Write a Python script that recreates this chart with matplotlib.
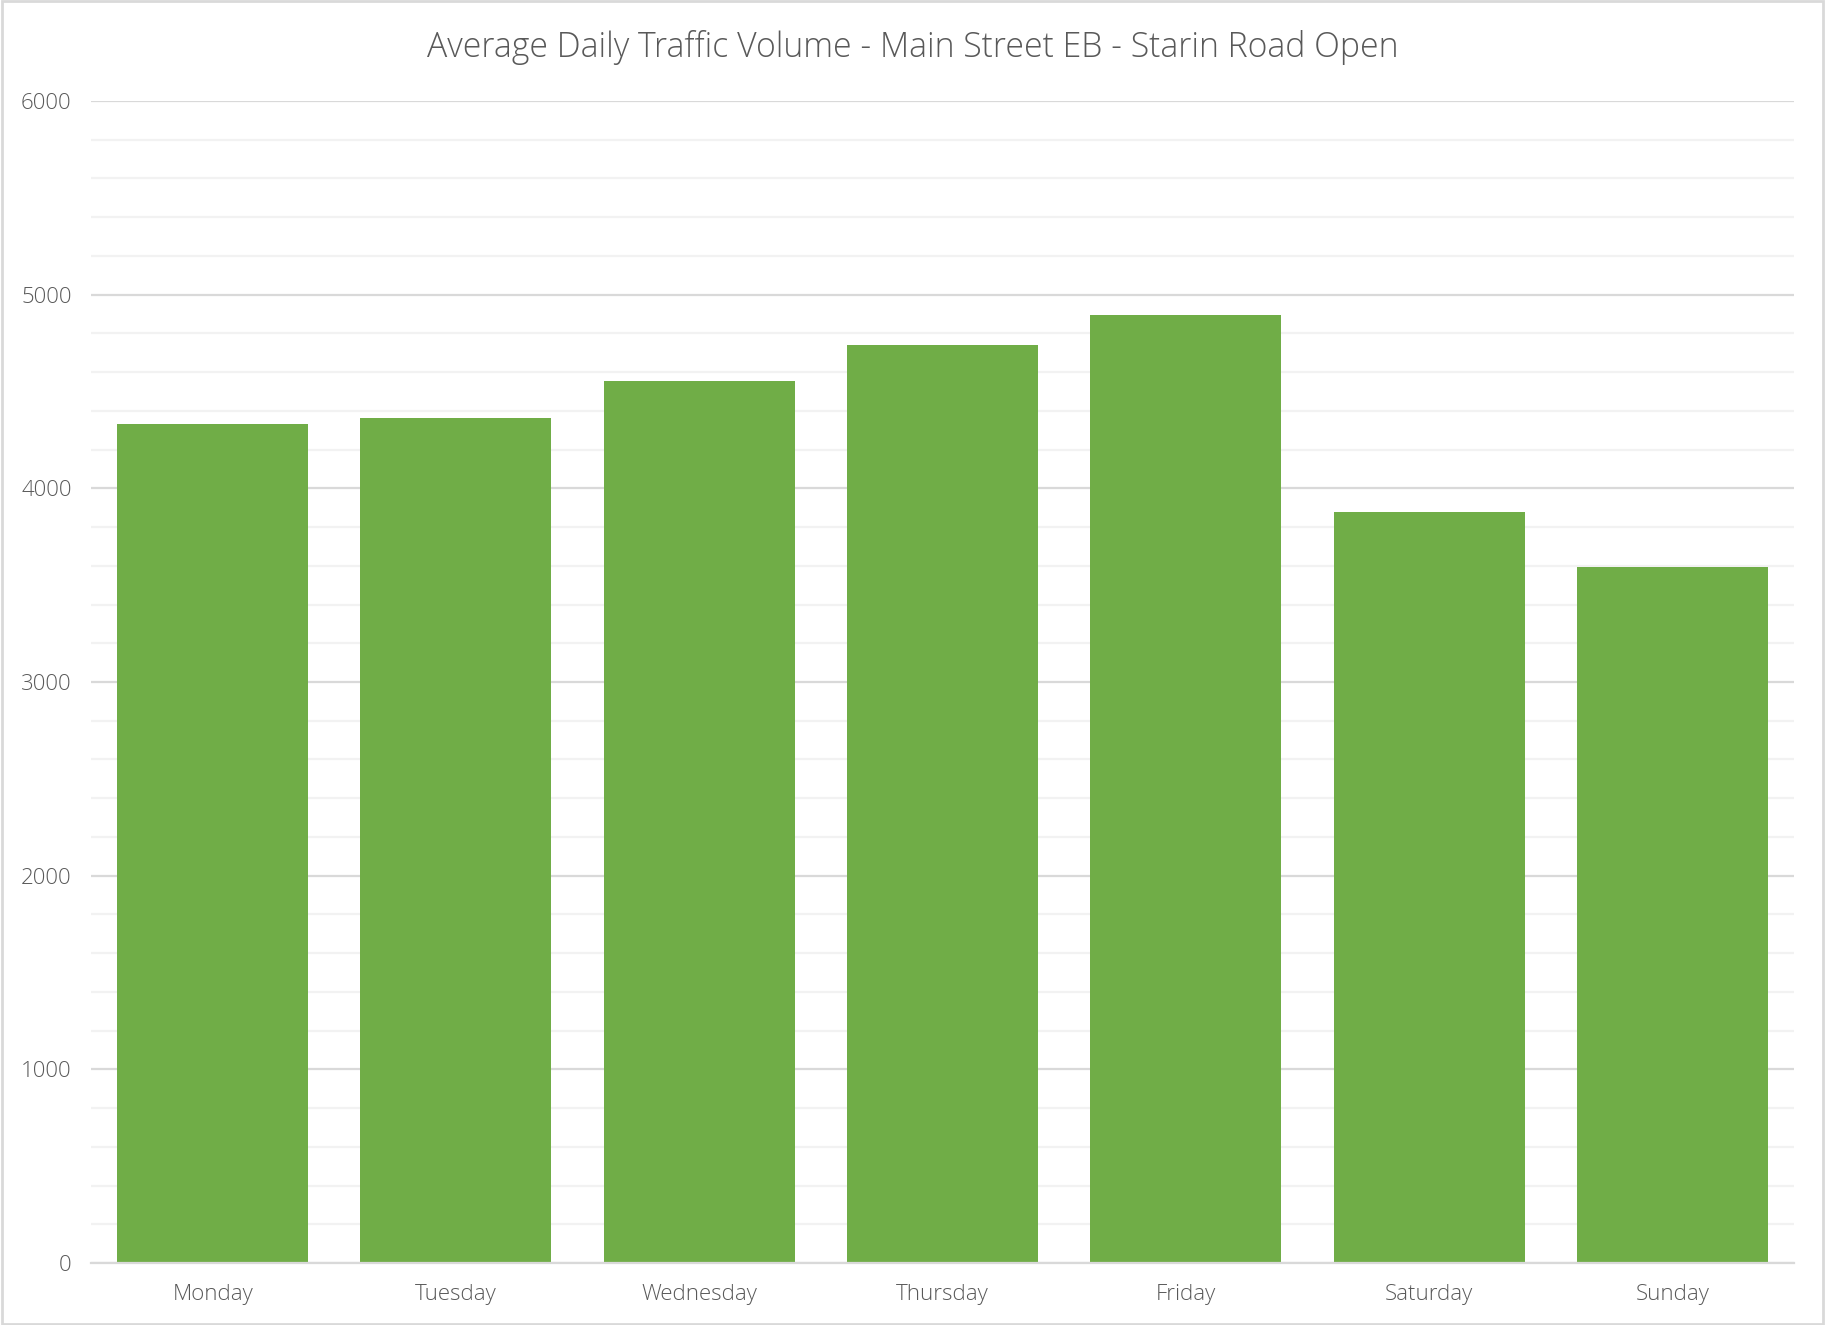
import matplotlib.pyplot as plt
from matplotlib.patches import Rectangle
import numpy as np

days = ['Monday', 'Tuesday', 'Wednesday', 'Thursday', 'Friday', 'Saturday', 'Sunday']
volume = [4331, 4364, 4554, 4740, 4897, 3876, 3593]

plt.rcParams['font.family'] = ['Open Sans', 'DejaVu Sans']

fig = plt.figure(figsize=(18.25, 13.25), dpi=100)
ax = fig.add_axes([0.0499, 0.0468, 0.9331, 0.877])

x = np.arange(len(days))
ax.bar(x, volume, width=0.785, color='#70ad47', zorder=3)

ax.set_ylim(0, 6000)
ax.set_xlim(-0.5, len(days) - 0.5)
ax.set_yticks(np.arange(0, 6001, 1000))
ax.set_yticks(np.arange(0, 6001, 200), minor=True)
ax.grid(axis='y', which='major', color='#d9d9d9', linewidth=1.6, zorder=0)
ax.grid(axis='y', which='minor', color='#f2f2f2', linewidth=1.6, zorder=0)
ax.set_xticks(x)
ax.set_xticklabels(days)

ax.tick_params(axis='both', which='both', length=0, labelsize=16, labelcolor='#595959')
ax.tick_params(axis='x', pad=15)
ax.tick_params(axis='y', pad=14)
for lab in ax.get_xticklabels() + ax.get_yticklabels():
    lab.set_fontweight('light')

for s in ['top', 'right', 'left']:
    ax.spines[s].set_visible(False)
ax.spines['bottom'].set_color('#d9d9d9')
ax.spines['bottom'].set_linewidth(1.6)
ax.spines['bottom'].set_zorder(4)

fig.text(0.5, 0.9645, 'Average Daily Traffic Volume - Main Street EB - Starin Road Open',
         ha='center', va='center', fontsize=24.3, color='#595959', fontweight='light')

fig.patches.append(Rectangle((0.001, 0.001), 0.998, 0.998, transform=fig.transFigure,
                             fill=False, edgecolor='#d9d9d9', linewidth=2))

fig.savefig('out.png', dpi=100, facecolor='white')
